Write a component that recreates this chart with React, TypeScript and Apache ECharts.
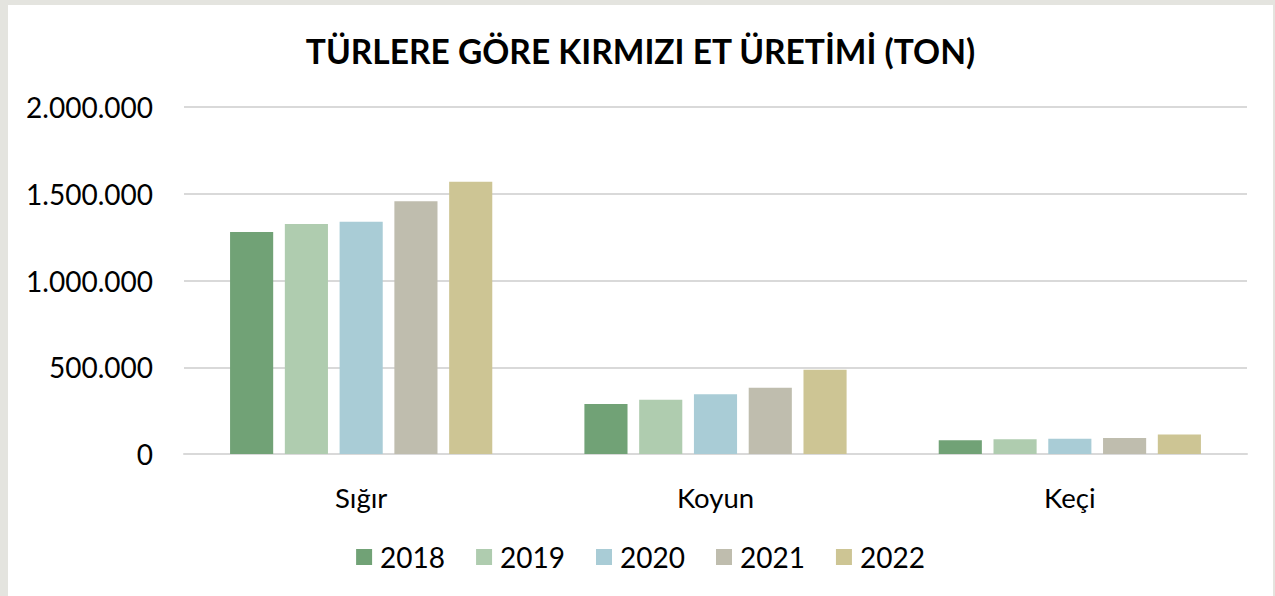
import React, { useEffect, useRef } from "react";
import * as echarts from "echarts";

const categories = ["Sığır", "Koyun", "Keçi"];
const years = ["2018", "2019", "2020", "2021", "2022"];
const v2018 = [1279500, 288000, 79000];
const v2019 = [1325600, 313000, 85000];
const v2020 = [1339000, 344000, 88000];
const v2021 = [1456500, 382000, 92000];
const v2022 = [1569500, 486000, 113000];
const seriesValues = [v2018, v2019, v2020, v2021, v2022];
const colors = ["#71A276", "#AFCCAF", "#A9CCD6", "#BFBDAE", "#CDC594"];
const title = "TÜRLERE GÖRE KIRMIZI ET ÜRETİMİ (TON)";

const FONT = "Lato";

function fmt(v: number) {
  return String(Math.round(v)).replace(/\B(?=(\d{3})+(?!\d))/g, ".");
}

export default function App() {
  const ref = useRef<HTMLDivElement>(null);
  useEffect(() => {
    if (!ref.current) return;
    const chart = echarts.init(ref.current, null, { renderer: "svg" });
    chart.setOption({
      animation: false,
      backgroundColor: "#ffffff",
      title: {
        text: title,
        left: "center",
        top: 24,
        textStyle: { fontFamily: FONT, fontWeight: "bold", fontSize: 33.5, color: "#000000" },
      },
      legend: {
        data: years,
        bottom: 20,
        left: "center",
        itemWidth: 16,
        itemHeight: 16,
        itemGap: 31,
        icon: "rect",
        textStyle: { fontFamily: FONT, fontSize: 28, color: "#000000", padding: [0, 0, 0, 3] },
      },
      grid: { left: 176, right: 26, top: 102, bottom: 142, containLabel: false },
      xAxis: {
        type: "category",
        data: categories,
        axisLine: { lineStyle: { color: "#d9d9d9", width: 2 } },
        axisTick: { show: false },
        axisLabel: { fontFamily: FONT, fontSize: 27.5, color: "#000000", margin: 29 },
      },
      yAxis: {
        type: "value",
        min: 0,
        max: 2000000,
        interval: 500000,
        axisLine: { show: false },
        axisTick: { show: false },
        splitLine: { lineStyle: { color: "#d9d9d9", width: 2 } },
        axisLabel: { fontFamily: FONT, fontSize: 28, color: "#000000", margin: 31, formatter: (v: number) => fmt(v) },
      },
      series: years.map((y, i) => ({
        name: y,
        type: "bar",
        data: seriesValues[i],
        barGap: "27%",
        barCategoryGap: "26%",
        itemStyle: { color: colors[i] },
      })),
    });
    return () => chart.dispose();
  }, []);
  return (
    <div style={{ position: "fixed", left: 0, top: 0, width: 1275, height: 596, background: "#e4e4df" }}>
      <div
        ref={ref}
        style={{ position: "absolute", left: 8, top: 5, width: 1265, height: 591, background: "#ffffff" }}
      />
    </div>
  );
}
